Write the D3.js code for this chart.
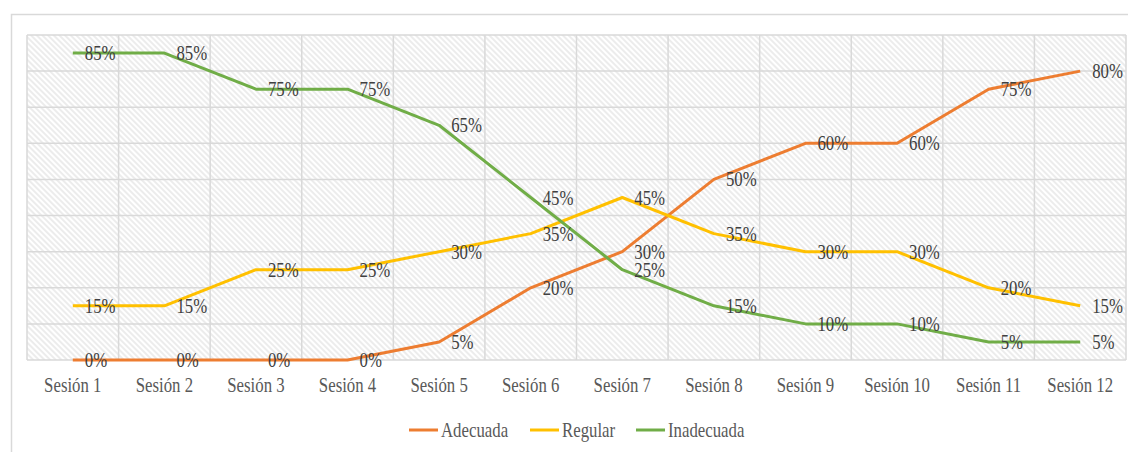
<!DOCTYPE html>
<html lang="es">
<head>
<meta charset="utf-8">
<title>Sesiones</title>
<script src="https://cdn.jsdelivr.net/npm/d3@7/dist/d3.min.js"></script>
<style>
  body { margin: 0; background: #fff; }
  svg text { font-family: "Liberation Serif", "Times New Roman", serif; }
</style>
</head>
<body>
<script>
// data
var sesiones = ["Sesión 1", "Sesión 2", "Sesión 3", "Sesión 4", "Sesión 5", "Sesión 6",
                "Sesión 7", "Sesión 8", "Sesión 9", "Sesión 10", "Sesión 11", "Sesión 12"];
var adecuada   = [0, 0, 0, 0, 5, 20, 30, 50, 60, 60, 75, 80];
var regular    = [15, 15, 25, 25, 30, 35, 45, 35, 30, 30, 20, 15];
var inadecuada = [85, 85, 75, 75, 65, 45, 25, 15, 10, 10, 5, 5];
var yTicks = [0, 10, 20, 30, 40, 50, 60, 70, 80, 90];

var series = [
  { name: "Adecuada", values: adecuada, color: "#ED7D31" },
  { name: "Regular", values: regular, color: "#FFC000" },
  { name: "Inadecuada", values: inadecuada, color: "#70AD47" }
];

var w = 1128, h = 452;
var pLeft = 27, pRight = 1126, pTop = 35, pBottom = 360;
var sx = 0.84; // text looks squeezed horizontally

var svg = d3.select("body").append("svg")
  .attr("width", w).attr("height", h);

// hatch pattern for plot area
var pat = svg.append("defs").append("pattern")
  .attr("id", "hatch")
  .attr("patternUnits", "userSpaceOnUse")
  .attr("width", 4).attr("height", 4)
  .attr("patternTransform", "rotate(-45)");
pat.append("rect").attr("width", 4).attr("height", 4).attr("fill", "#fff");
pat.append("line").attr("x1", 1).attr("y1", 0).attr("x2", 1).attr("y2", 4)
  .attr("stroke", "#dadada").attr("stroke-width", 1);

// chart border
svg.append("rect")
  .attr("x", 11.5).attr("y", 14.5).attr("width", w + 10).attr("height", h + 10)
  .attr("fill", "#fff").attr("stroke", "#d9d9d9").attr("stroke-width", 1.5);

var x = d3.scaleBand().domain(sesiones).range([pLeft, pRight]);
var y = d3.scaleLinear().domain([0, 90]).range([pBottom, pTop]);

svg.append("rect")
  .attr("x", pLeft).attr("y", pTop)
  .attr("width", pRight - pLeft).attr("height", pBottom - pTop)
  .attr("fill", "url(#hatch)");

// gridlines
svg.append("g").selectAll("line")
  .data(yTicks).enter().append("line")
  .attr("x1", pLeft).attr("x2", pRight)
  .attr("y1", function(d) { return y(d); }).attr("y2", function(d) { return y(d); })
  .attr("stroke", "#d9d9d9").attr("stroke-width", 1.5);

var bounds = [pLeft].concat(sesiones.map(function(s) { return x(s) + x.bandwidth(); }));
svg.append("g").selectAll("line")
  .data(bounds).enter().append("line")
  .attr("x1", function(d) { return d; }).attr("x2", function(d) { return d; })
  .attr("y1", pTop).attr("y2", pBottom)
  .attr("stroke", "#d9d9d9").attr("stroke-width", 1.5);

// x axis labels
var xAxis = d3.axisBottom(x).tickSize(0).tickPadding(0);
var gx = svg.append("g").attr("transform", "translate(0," + pBottom + ")").call(xAxis);
gx.select(".domain").remove();
gx.selectAll("text")
  .attr("y", 0).attr("dy", 0)
  .attr("transform", "translate(0,32) scale(" + sx + ",1)")
  .attr("font-size", "20px").attr("fill", "#595959")
  .attr("font-family", "Liberation Serif");

// lines
var line = d3.line()
  .x(function(d, i) { return x(sesiones[i]) + x.bandwidth() / 2; })
  .y(function(d) { return y(d); });

svg.append("g").selectAll("path")
  .data(series).enter().append("path")
  .attr("d", function(s) { return line(s.values); })
  .attr("fill", "none")
  .attr("stroke", function(s) { return s.color; })
  .attr("stroke-width", 3)
  .attr("stroke-linejoin", "round");

// data labels (right of point)
series.forEach(function(s) {
  svg.append("g").selectAll("text")
    .data(s.values).enter().append("text")
    .attr("transform", function(d, i) {
      return "translate(" + (x(sesiones[i]) + x.bandwidth() / 2 + 12) + "," + (y(d) + 7) + ") scale(" + sx + ",1)";
    })
    .attr("font-size", "20px")
    .attr("fill", "#404040")
    .text(function(d) { return d + "%"; });
});

// legend
var legX = [409, 530, 636];
var lg = svg.append("g").selectAll("g")
  .data(series).enter().append("g")
  .attr("transform", function(s, i) { return "translate(" + legX[i] + ",430)"; });
lg.append("line")
  .attr("x1", 0).attr("x2", 29).attr("y1", 0).attr("y2", 0)
  .attr("stroke", function(s) { return s.color; }).attr("stroke-width", 3);
lg.append("text")
  .attr("transform", "translate(32,7) scale(" + sx + ",1)")
  .attr("font-size", "20px").attr("fill", "#595959")
  .text(function(s) { return s.name; });
</script>
</body>
</html>
